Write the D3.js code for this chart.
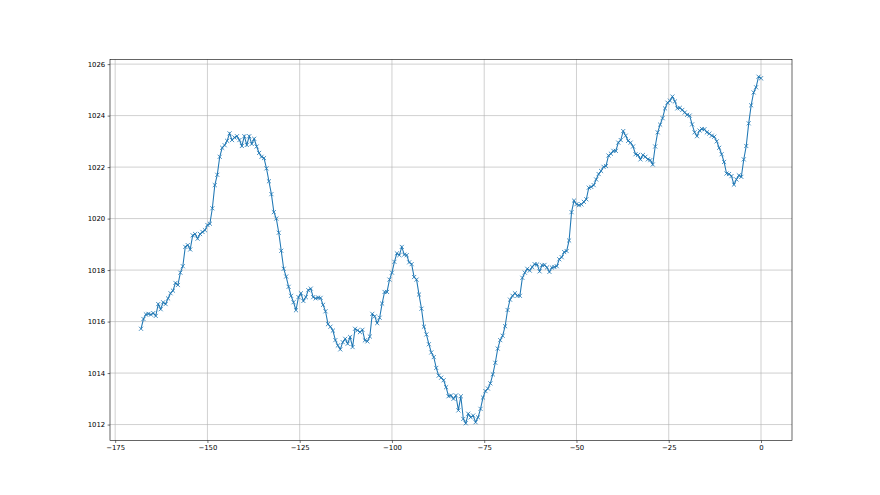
<!DOCTYPE html>
<html>
<head>
<meta charset="utf-8">
<style>
  body { margin: 0; background: #fff; }
  svg { display: block; }
  .tick text { font-family: 'DejaVu Sans', sans-serif; font-size: 6.9px; fill: #000; }
</style>
</head>
<body>
<svg width="880" height="495"></svg>
<script src="https://d3js.org/d3.v7.min.js"></script>
<script>
// readings every 40 minutes, hours before now
let hours = d3.range(0, 253).map(i => -168 + i * 2 / 3);

let pressure = [
  1015.72, 1016.10, 1016.28, 1016.30, 1016.27, 1016.33, 1016.22, 1016.68, 1016.48, 1016.75,
  1016.68, 1016.90, 1017.10, 1017.20, 1017.50, 1017.42, 1017.90, 1018.15, 1018.90, 1018.97,
  1018.80, 1019.35, 1019.40, 1019.22, 1019.40, 1019.48, 1019.55, 1019.75, 1019.80, 1020.40,
  1021.30, 1021.70, 1022.40, 1022.75, 1022.85, 1023.02, 1023.31, 1023.05, 1023.15, 1023.20,
  1023.05, 1022.82, 1023.20, 1022.86, 1023.20, 1022.90, 1023.10, 1022.80, 1022.55, 1022.40,
  1022.35, 1021.95, 1021.45, 1020.95, 1020.25, 1020.00, 1019.45, 1018.75, 1018.05, 1017.75,
  1017.35, 1017.00, 1016.75, 1016.44, 1016.95, 1017.10, 1016.80, 1016.95, 1017.22, 1017.28,
  1016.95, 1016.90, 1016.93, 1016.92, 1016.65, 1016.40, 1015.90, 1015.80, 1015.65, 1015.28,
  1015.07, 1014.92, 1015.20, 1015.33, 1015.14, 1015.40, 1015.01, 1015.72, 1015.66, 1015.59,
  1015.68, 1015.27, 1015.23, 1015.42, 1016.30, 1016.20, 1015.94, 1016.15, 1016.70, 1017.15,
  1017.15, 1017.63, 1017.90, 1018.32, 1018.65, 1018.58, 1018.90, 1018.60, 1018.58, 1018.30,
  1018.23, 1017.73, 1017.63, 1017.05, 1016.50, 1015.80, 1015.50, 1015.12, 1014.80, 1014.62,
  1014.20, 1013.90, 1013.82, 1013.72, 1013.45, 1013.10, 1013.13, 1013.00, 1013.13, 1012.55,
  1013.10, 1012.22, 1012.05, 1012.42, 1012.28, 1012.35, 1012.09, 1012.28, 1012.61, 1013.05,
  1013.30, 1013.40, 1013.60, 1013.95, 1014.40, 1014.95, 1015.28, 1015.45, 1015.82, 1016.45,
  1016.85, 1017.00, 1017.10, 1017.00, 1017.00, 1017.70, 1017.90, 1018.05, 1017.98, 1018.12,
  1018.23, 1018.22, 1017.95, 1018.19, 1018.20, 1018.10, 1017.93, 1018.10, 1018.12, 1018.15,
  1018.42, 1018.50, 1018.70, 1018.74, 1019.15, 1020.25, 1020.70, 1020.56, 1020.52, 1020.55,
  1020.65, 1020.75, 1021.20, 1021.23, 1021.30, 1021.52, 1021.73, 1021.85, 1022.01, 1022.04,
  1022.45, 1022.52, 1022.63, 1022.63, 1022.95, 1023.05, 1023.40, 1023.22, 1023.02, 1022.95,
  1022.80, 1022.50, 1022.47, 1022.30, 1022.47, 1022.40, 1022.30, 1022.27, 1022.10, 1022.80,
  1023.35, 1023.65, 1023.90, 1024.28, 1024.50, 1024.58, 1024.74, 1024.55, 1024.28, 1024.30,
  1024.22, 1024.12, 1024.03, 1024.00, 1023.66, 1023.35, 1023.20, 1023.42, 1023.48, 1023.47,
  1023.35, 1023.30, 1023.22, 1023.18, 1023.00, 1022.75, 1022.50, 1022.20, 1021.75, 1021.73,
  1021.65, 1021.32, 1021.52, 1021.68, 1021.62, 1022.30, 1022.82, 1023.70, 1024.40, 1024.90,
  1025.10, 1025.51, 1025.45
];

let xTicks = [-175, -150, -125, -100, -75, -50, -25, 0];
let yTicks = [1012, 1014, 1016, 1018, 1020, 1022, 1024, 1026];

let data = hours.map((h, i) => ({ h: h, p: pressure[i] }));

let plotLeft = 110, plotRight = 792, plotTop = 59.4, plotBottom = 440.6;

// matplotlib style 5% margins
function padded(ext) {
  let m = (ext[1] - ext[0]) * 0.05;
  return [ext[0] - m, ext[1] + m];
}

let x = d3.scaleLinear().domain(padded(d3.extent(hours))).range([plotLeft, plotRight]);
let y = d3.scaleLinear().domain(padded(d3.extent(pressure))).range([plotBottom, plotTop]);

let svg = d3.select("svg");
let fmt = d => String(d).replace("-", "\u2212");

// grid
svg.append("g")
  .selectAll("line")
  .data(xTicks)
  .join("line")
  .attr("x1", d => x(d)).attr("x2", d => x(d))
  .attr("y1", plotTop).attr("y2", plotBottom)
  .style("stroke", "#b0b0b0").style("stroke-width", 0.6);

svg.append("g")
  .selectAll("line")
  .data(yTicks)
  .join("line")
  .attr("x1", plotLeft).attr("x2", plotRight)
  .attr("y1", d => y(d)).attr("y2", d => y(d))
  .style("stroke", "#b0b0b0").style("stroke-width", 0.6);

// line
let line = d3.line().x(d => x(d.h)).y(d => y(d.p));
svg.append("path")
  .datum(data)
  .attr("d", line)
  .style("fill", "none")
  .style("stroke", "#1f77b4")
  .style("stroke-width", 1.05);

// x markers
let s = 2.05;
svg.append("g")
  .selectAll("path")
  .data(data)
  .join("path")
  .attr("d", d => {
    let cx = x(d.h), cy = y(d.p);
    return `M${cx - s},${cy - s}L${cx + s},${cy + s}M${cx - s},${cy + s}L${cx + s},${cy - s}`;
  })
  .style("fill", "none")
  .style("stroke", "#1f77b4")
  .style("stroke-width", 0.8);

// axes
let xAxis = d3.axisBottom(x).tickValues(xTicks).tickFormat(fmt).tickSize(2.4).tickPadding(2.4);
let gx = svg.append("g").attr("transform", `translate(0,${plotBottom})`).call(xAxis);
let yAxis = d3.axisLeft(y).tickValues(yTicks).tickFormat(d3.format("d")).tickSize(2.4).tickPadding(2.4);
let gy = svg.append("g").attr("transform", `translate(${plotLeft},0)`).call(yAxis);

[gx, gy].forEach(g => {
  g.select(".domain").remove();
  g.selectAll(".tick line").style("stroke", "#000").style("stroke-width", 0.55);
});

// frame
svg.append("rect")
  .attr("x", plotLeft).attr("y", plotTop)
  .attr("width", plotRight - plotLeft).attr("height", plotBottom - plotTop)
  .style("fill", "none")
  .style("stroke", "#000")
  .style("stroke-width", 0.6);
</script>
</body>
</html>
